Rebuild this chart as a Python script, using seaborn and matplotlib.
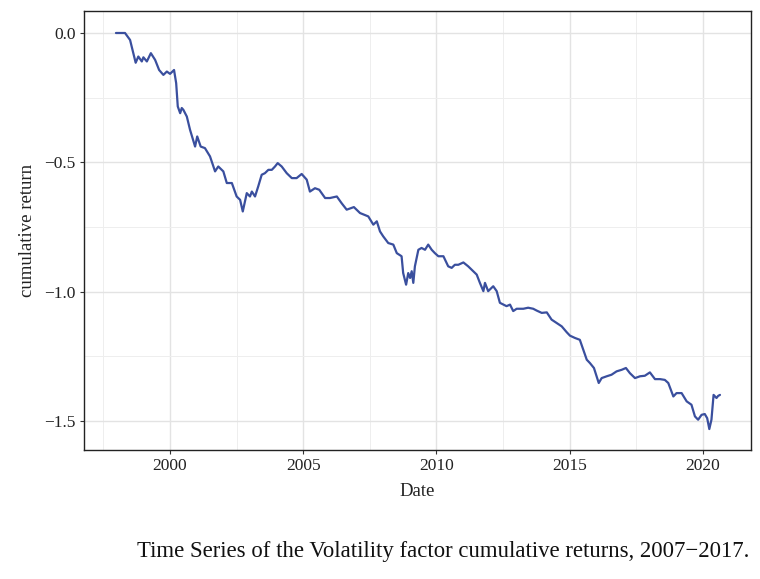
import numpy as np
import pandas as pd
import matplotlib
matplotlib.use("Agg")
import matplotlib.pyplot as plt
import seaborn as sns
from matplotlib.ticker import MultipleLocator

# decimal years
years = [
    1997.97, 1998.31, 1998.50, 1998.62, 1998.71, 1998.81, 1998.94, 1999.00,
    1999.13, 1999.28, 1999.44, 1999.59, 1999.75, 1999.88, 2000.00, 2000.15,
    2000.23, 2000.29, 2000.38, 2000.44, 2000.50, 2000.63, 2000.75, 2000.94,
    2001.02, 2001.15, 2001.31, 2001.50, 2001.69, 2001.81, 2002.00, 2002.13,
    2002.32, 2002.50, 2002.63, 2002.73, 2002.88, 2003.00, 2003.07, 2003.19,
    2003.31, 2003.44, 2003.56, 2003.69, 2003.82, 2003.94, 2004.04, 2004.19,
    2004.38, 2004.57, 2004.75, 2004.94, 2005.13, 2005.25, 2005.44, 2005.60,
    2005.82, 2006.00, 2006.26, 2006.44, 2006.63, 2006.90, 2007.13, 2007.44,
    2007.63, 2007.76, 2007.88, 2008.00, 2008.19, 2008.38, 2008.51, 2008.69,
    2008.75, 2008.86, 2008.94, 2009.01, 2009.07, 2009.13, 2009.19, 2009.32,
    2009.44, 2009.57, 2009.69, 2009.82, 2009.94, 2010.07, 2010.26, 2010.44,
    2010.57, 2010.69, 2010.82, 2011.01, 2011.19, 2011.38, 2011.51, 2011.63,
    2011.76, 2011.82, 2011.94, 2012.13, 2012.26, 2012.38, 2012.51, 2012.63,
    2012.76, 2012.88, 2013.01, 2013.26, 2013.44, 2013.63, 2013.76, 2013.95,
    2014.14, 2014.32, 2014.51, 2014.70, 2014.89, 2015.01, 2015.20, 2015.38,
    2015.51, 2015.64, 2015.76, 2015.91, 2016.01, 2016.09, 2016.20, 2016.39,
    2016.57, 2016.76, 2016.95, 2017.11, 2017.26, 2017.45, 2017.64, 2017.82,
    2018.01, 2018.20, 2018.39, 2018.57, 2018.70, 2018.89, 2019.01, 2019.20,
    2019.39, 2019.57, 2019.70, 2019.82, 2019.95, 2020.07, 2020.16, 2020.24,
    2020.32, 2020.40, 2020.51, 2020.57, 2020.64,
]

cum_return = [
    0.000, 0.000, -0.027, -0.078, -0.115, -0.091, -0.110, -0.094,
    -0.110, -0.078, -0.104, -0.143, -0.162, -0.149, -0.158, -0.143,
    -0.194, -0.284, -0.310, -0.290, -0.297, -0.323, -0.374, -0.439,
    -0.400, -0.439, -0.445, -0.477, -0.535, -0.516, -0.535, -0.580,
    -0.580, -0.632, -0.645, -0.690, -0.619, -0.632, -0.613, -0.632,
    -0.593, -0.548, -0.542, -0.529, -0.529, -0.516, -0.503, -0.516,
    -0.542, -0.561, -0.561, -0.545, -0.567, -0.613, -0.600, -0.606,
    -0.638, -0.638, -0.632, -0.658, -0.683, -0.673, -0.696, -0.709,
    -0.741, -0.728, -0.767, -0.786, -0.812, -0.818, -0.851, -0.863,
    -0.928, -0.973, -0.928, -0.947, -0.921, -0.966, -0.902, -0.838,
    -0.831, -0.838, -0.818, -0.838, -0.851, -0.863, -0.863, -0.902,
    -0.908, -0.896, -0.896, -0.887, -0.902, -0.921, -0.934, -0.966,
    -0.998, -0.966, -0.998, -0.979, -0.998, -1.043, -1.050, -1.056,
    -1.050, -1.075, -1.066, -1.066, -1.062, -1.066, -1.073, -1.082,
    -1.080, -1.108, -1.121, -1.134, -1.157, -1.170, -1.179, -1.186,
    -1.224, -1.263, -1.276, -1.295, -1.327, -1.353, -1.334, -1.327,
    -1.321, -1.308, -1.302, -1.295, -1.315, -1.334, -1.327, -1.325,
    -1.312, -1.338, -1.338, -1.341, -1.353, -1.405, -1.392, -1.392,
    -1.424, -1.437, -1.482, -1.495, -1.476, -1.473, -1.489, -1.531,
    -1.495, -1.399, -1.411, -1.403, -1.399,
]

caption = "Time Series of the Volatility factor cumulative returns, 2007\u22122017."

df = pd.DataFrame({"Date": years, "cumulative return": cum_return})

sns.set_theme(style="white")
plt.rcParams["font.family"] = ["Liberation Serif", "DejaVu Serif"]
plt.rcParams["axes.unicode_minus"] = True

fig = plt.figure(figsize=(7.6, 5.79), dpi=100)
ax = fig.add_axes([0.1105, 0.2228, 0.8775, 0.7582])

sns.lineplot(data=df, x="Date", y="cumulative return", ax=ax,
             color="#3a4f9e", linewidth=1.6)

ax.set_xlim(1996.77, 2021.8)
ax.set_ylim(-1.612, 0.085)
ax.xaxis.set_major_locator(MultipleLocator(5))
ax.xaxis.set_minor_locator(MultipleLocator(2.5))
ax.yaxis.set_major_locator(MultipleLocator(0.5))
ax.yaxis.set_minor_locator(MultipleLocator(0.25))
ax.xaxis.set_major_formatter(plt.FuncFormatter(lambda v, p: f"{int(round(v))}"))
ax.yaxis.set_major_formatter(plt.FuncFormatter(lambda v, p: f"{v:.1f}".replace("-", "\u2212")))

ax.grid(which="major", color="#e3e3e3", linewidth=1.0)
ax.grid(which="minor", color="#eeeeee", linewidth=0.7)
ax.set_axisbelow(True)
for s in ax.spines.values():
    s.set_color("#222222")
    s.set_linewidth(1.0)

ax.tick_params(which="major", length=3, width=0.8, color="#333333",
               labelsize=12.5, labelcolor="#222222", bottom=True, left=True, pad=3)
ax.tick_params(which="minor", length=0)
ax.set_xlabel("Date", fontsize=13.5, color="#222222", labelpad=6)
ax.set_ylabel("cumulative return", fontsize=13.5, color="#222222", labelpad=6)

fig.text(0.18, 0.048, caption, ha="left", va="center", fontsize=16.4, color="#111111")

fig.savefig("out.png", dpi=100)
